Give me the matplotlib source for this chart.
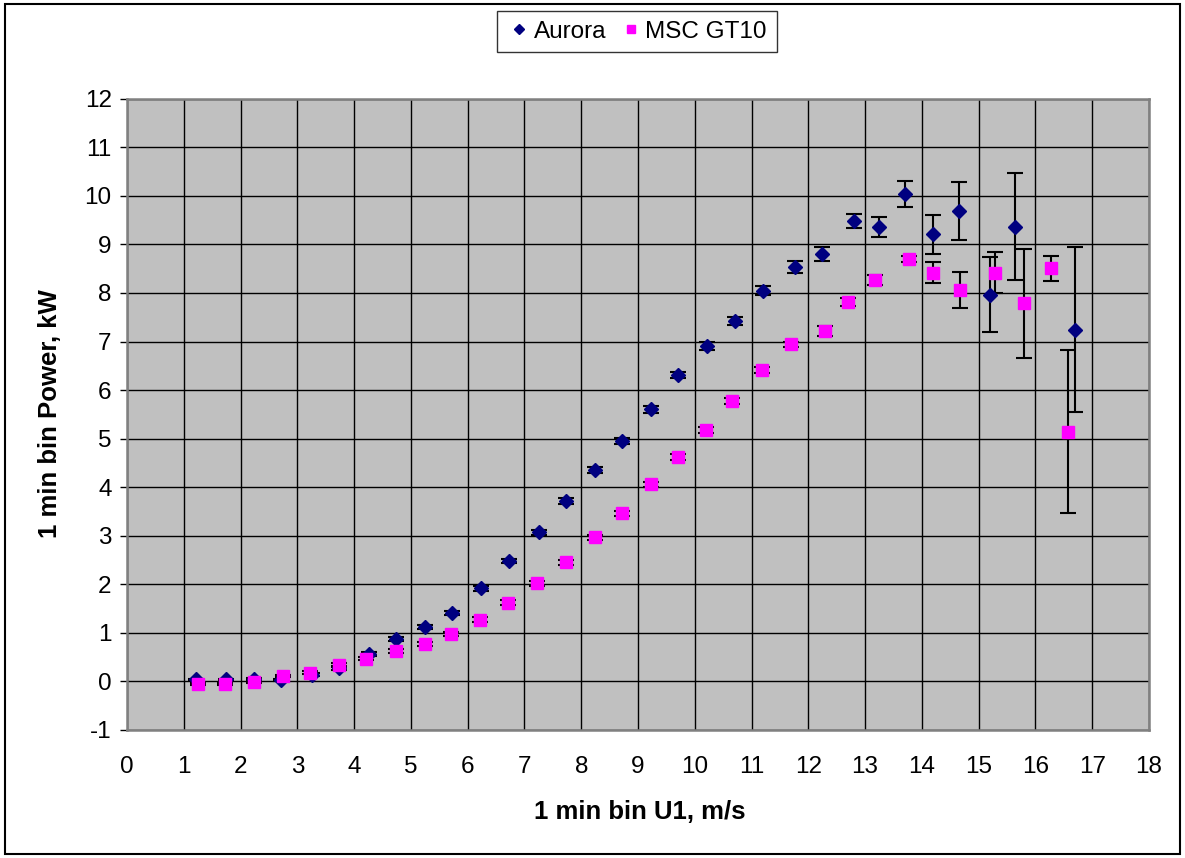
import numpy as np
import matplotlib
matplotlib.use('Agg')
import matplotlib.pyplot as plt
from matplotlib.patches import Rectangle

plt.rcParams['font.family'] = ['Liberation Sans', 'DejaVu Sans']
plt.rcParams['axes.unicode_minus'] = False

# Aurora: bin wind speed (m/s), power (kW), error half-width (kW)
aurora_u = [1.22, 1.74, 2.24, 2.72, 3.25, 3.74, 4.27, 4.74, 5.25, 5.72,
            6.24, 6.72, 7.26, 7.74, 8.24, 8.72, 9.23, 9.71, 10.22, 10.70,
            11.21, 11.76, 12.24, 12.81, 13.25, 13.70, 14.20, 14.66, 15.20, 15.64,
            16.70]
aurora_p = [0.04, 0.04, 0.06, 0.02, 0.14, 0.27, 0.57, 0.88, 1.12, 1.41,
            1.92, 2.48, 3.07, 3.71, 4.36, 4.95, 5.60, 6.31, 6.91, 7.43,
            8.05, 8.53, 8.80, 9.48, 9.36, 10.04, 9.21, 9.68, 7.96, 9.36,
            7.24]
aurora_err = [0.02, 0.02, 0.02, 0.02, 0.03, 0.03, 0.04, 0.04, 0.04, 0.05,
              0.05, 0.05, 0.05, 0.06, 0.06, 0.06, 0.07, 0.07, 0.08, 0.08,
              0.10, 0.12, 0.15, 0.15, 0.20, 0.26, 0.40, 0.60, 0.77, 1.10,
              1.70]

# MSC GT10
msc_u = [1.25, 1.73, 2.24, 2.75, 3.23, 3.74, 4.21, 4.73, 5.24, 5.71,
         6.22, 6.71, 7.22, 7.73, 8.24, 8.72, 9.23, 9.71, 10.20, 10.66,
         11.19, 11.69, 12.29, 12.69, 13.17, 13.78, 14.19, 14.67, 15.29, 15.80,
         16.28, 16.58]
msc_p = [-0.05, -0.05, -0.01, 0.11, 0.18, 0.34, 0.47, 0.62, 0.78, 0.97,
         1.27, 1.62, 2.02, 2.45, 2.97, 3.46, 4.06, 4.62, 5.17, 5.77,
         6.42, 6.94, 7.22, 7.82, 8.26, 8.70, 8.42, 8.06, 8.42, 7.79,
         8.51, 5.14]
msc_err = [0.02, 0.02, 0.02, 0.02, 0.03, 0.03, 0.03, 0.04, 0.04, 0.04,
           0.05, 0.05, 0.05, 0.05, 0.05, 0.05, 0.05, 0.06, 0.06, 0.06,
           0.06, 0.06, 0.10, 0.08, 0.10, 0.07, 0.22, 0.37, 0.42, 1.12,
           0.26, 1.68]

x_ticks = list(range(0, 19))
y_ticks = list(range(-1, 13))

W, H = 1185, 858
fig = plt.figure(figsize=(W / 100, H / 100), dpi=100)
fig.patch.set_facecolor('white')

# outer chart frame
fig.patches.append(Rectangle((5 / W, 4 / H), 1175 / W, 850 / H, transform=fig.transFigure,
                             fill=False, edgecolor='black', linewidth=1.5))

# plot area
ax = fig.add_axes([127 / W, 1 - 730 / H, 1022 / W, 631.3 / H])
ax.set_facecolor('#C0C0C0')
ax.set_xlim(0, 18)
ax.set_ylim(-1, 12)
ax.set_xticks(x_ticks)
ax.set_yticks(y_ticks)
ax.grid(True, color='black', linewidth=1)
ax.set_axisbelow(True)
for s in ax.spines.values():
    s.set_color('#808080')
    s.set_linewidth(1.8)

ax.tick_params(axis='y', direction='out', length=5, width=1, color='black',
               labelsize=17.5, pad=6)
ax.tick_params(axis='x', length=0, labelsize=17.5, pad=19)

# error bars first, markers on top
ax.errorbar(aurora_u, aurora_p, yerr=aurora_err, fmt='none', ecolor='black',
            elinewidth=1.5, capsize=5.5, capthick=1.5, zorder=3)
ax.errorbar(msc_u, msc_p, yerr=msc_err, fmt='none', ecolor='black',
            elinewidth=1.5, capsize=5.5, capthick=1.5, zorder=3)
ax.plot(aurora_u, aurora_p, linestyle='none', marker='D', markersize=7.5,
        color='#000080', markeredgecolor='#000080', label='Aurora', zorder=4)
ax.plot(msc_u, msc_p, linestyle='none', marker='s', markersize=8.5,
        color='#FF00FF', markeredgecolor='#FF00FF', label='MSC GT10', zorder=5)

fig.text(640 / W, 1 - 812 / H, '1 min bin U1, m/s', ha='center', va='center',
         fontsize=18.5, fontweight='bold')
fig.text(50 / W, 1 - 414 / H, '1 min bin Power, kW', ha='center', va='center',
         rotation=90, fontsize=18.5, fontweight='bold')

leg = fig.legend(loc='center', bbox_to_anchor=(637 / W, 1 - 31.5 / H), ncol=2,
                 fontsize=17.5, frameon=True, fancybox=False, handletextpad=0.1,
                 columnspacing=0.5, handlelength=1.0, borderpad=0.4,
                 markerscale=0.7)
leg.get_frame().set_edgecolor('black')
leg.get_frame().set_linewidth(1)

fig.savefig('out.png', dpi=100)
